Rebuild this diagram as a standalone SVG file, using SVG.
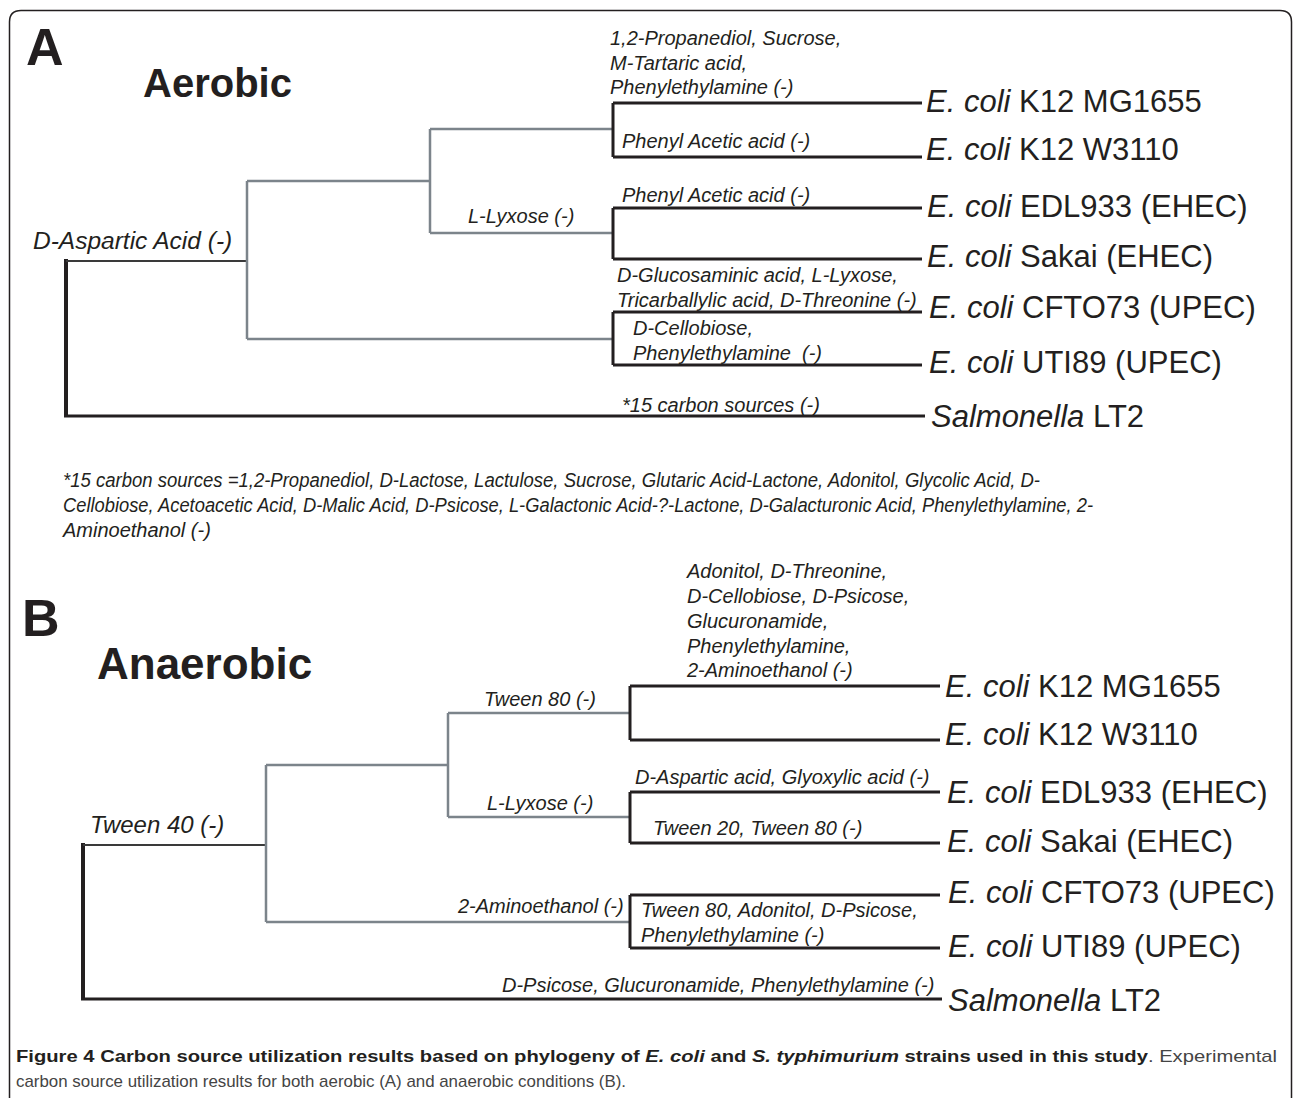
<svg xmlns="http://www.w3.org/2000/svg" width="1293" height="1098" viewBox="0 0 1293 1098">
<style>
text{font-family:"Liberation Sans",Arial,sans-serif;fill:#231f20}
.big{font-weight:bold}
.lab{font-style:italic;font-size:20px}
.sp{font-size:31px}
.sp .i{font-style:italic}
.fn{font-style:italic;font-size:20px}
.cap{font-size:17px}
.g{stroke:#7c848b;stroke-width:2.5;fill:none}
.d{stroke:#3a3a3a;stroke-width:2;fill:none}
.k{stroke:#231f20;stroke-width:3;fill:none}
.r{stroke:#231f20;stroke-width:4;fill:none}
</style>
<rect width="1293" height="1098" fill="#fff"/>
<path d="M9.5,1098 V22 Q9.5,10.5 21,10.5 H1280 Q1291.5,10.5 1291.5,22 V1098" fill="none" stroke="#231f20" stroke-width="1.5"/>

<g id="panelA-titles">
<text class="big" x="26" y="65" font-size="52">A</text>
<text class="big" x="143" y="97" font-size="40">Aerobic</text>
</g>

<g id="connectors-A">
<path class="r" d="M66,259 V416"/>
<path class="d" d="M66,261 H247"/>
<path class="g" d="M247,181 V339 M247,181 H430 M247,339 H613 M430,129 V233 M430,129 H613 M430,233 H613"/>
<path class="k" d="M613,103 V157 M613,103 H922 M613,157 H922"/>
<path class="k" d="M613,208 V259 M613,208 H922 M613,259 H922"/>
<path class="k" d="M613,312 V365 M613,312 H922 M613,365 H922"/>
<path class="k" stroke-width="3.5" d="M64,416 H925"/>
</g>

<g id="labels-A">
<text class="lab" x="33" y="249" style="font-size:24.5px">D-Aspartic Acid (-)</text>
<text class="lab" x="468" y="223">L-Lyxose (-)</text>
<text class="lab" x="610" y="45">1,2-Propanediol, Sucrose,</text>
<text class="lab" x="610" y="70">M-Tartaric acid,</text>
<text class="lab" x="610" y="94">Phenylethylamine (-)</text>
<text class="lab" x="622" y="148">Phenyl Acetic acid (-)</text>
<text class="lab" x="622" y="202">Phenyl Acetic acid (-)</text>
<text class="lab" x="617" y="282">D-Glucosaminic acid, L-Lyxose,</text>
<text class="lab" x="617" y="307">Tricarballylic acid, D-Threonine (-)</text>
<text class="lab" x="633" y="335">D-Cellobiose,</text>
<text class="lab" x="633" y="360" xml:space="preserve">Phenylethylamine  (-)</text>
<text class="lab" x="622" y="412">*15 carbon sources (-)</text>
</g>

<g id="nodes-A">
<g id="A-MG1655"><text class="sp" x="926" y="112"><tspan class="i">E. coli</tspan> K12 MG1655</text></g>
<g id="A-W3110"><text class="sp" x="926" y="160"><tspan class="i">E. coli</tspan> K12 W3110</text></g>
<g id="A-EDL933"><text class="sp" x="927" y="217"><tspan class="i">E. coli</tspan> EDL933 (EHEC)</text></g>
<g id="A-Sakai"><text class="sp" x="927" y="267"><tspan class="i">E. coli</tspan> Sakai (EHEC)</text></g>
<g id="A-CFTO73"><text class="sp" x="929" y="318"><tspan class="i">E. coli</tspan> CFTO73 (UPEC)</text></g>
<g id="A-UTI89"><text class="sp" x="929" y="373"><tspan class="i">E. coli</tspan> UTI89 (UPEC)</text></g>
<g id="A-LT2"><text class="sp" x="931" y="427"><tspan class="i">Salmonella</tspan> LT2</text></g>
</g>

<g id="footnote">
<text class="fn" x="63" y="487" textLength="977" lengthAdjust="spacingAndGlyphs">*15 carbon sources =1,2-Propanediol, D-Lactose, Lactulose, Sucrose, Glutaric Acid-Lactone, Adonitol, Glycolic Acid, D-</text>
<text class="fn" x="63" y="512" textLength="1030" lengthAdjust="spacingAndGlyphs">Cellobiose, Acetoacetic Acid, D-Malic Acid, D-Psicose, L-Galactonic Acid-?-Lactone, D-Galacturonic Acid, Phenylethylamine, 2-</text>
<text class="fn" x="63" y="537">Aminoethanol (-)</text>
</g>

<g id="panelB-titles">
<text class="big" x="22" y="636" font-size="52">B</text>
<text class="big" x="97" y="679" font-size="44">Anaerobic</text>
</g>

<g id="connectors-B">
<path class="r" d="M83,843 V1000"/>
<path class="d" d="M83,845 H266"/>
<path class="g" d="M266,765 V922 M266,765 H448 M266,922 H630 M448,713 V817 M448,713 H630 M448,817 H630"/>
<path class="k" d="M630,686 V740 M630,686 H940 M630,740 H940"/>
<path class="k" d="M630,792 V843 M630,792 H940 M630,843 H940"/>
<path class="k" d="M630,895 V948 M630,895 H940 M630,948 H940"/>
<path class="k" stroke-width="3.5" d="M81,999 H942"/>
</g>

<g id="labels-B">
<text class="lab" x="90" y="833" style="font-size:24px">Tween 40 (-)</text>
<text class="lab" x="484" y="706">Tween 80 (-)</text>
<text class="lab" x="487" y="810">L-Lyxose (-)</text>
<text class="lab" x="458" y="913">2-Aminoethanol (-)</text>
<text class="lab" x="687" y="578">Adonitol, D-Threonine,</text>
<text class="lab" x="687" y="603">D-Cellobiose, D-Psicose,</text>
<text class="lab" x="687" y="628">Glucuronamide,</text>
<text class="lab" x="687" y="653">Phenylethylamine,</text>
<text class="lab" x="687" y="677">2-Aminoethanol (-)</text>
<text class="lab" x="635" y="784">D-Aspartic acid, Glyoxylic acid (-)</text>
<text class="lab" x="653" y="835">Tween 20, Tween 80 (-)</text>
<text class="lab" x="641" y="917">Tween 80, Adonitol, D-Psicose,</text>
<text class="lab" x="641" y="942">Phenylethylamine (-)</text>
<text class="lab" x="502" y="992">D-Psicose, Glucuronamide, Phenylethylamine (-)</text>
</g>

<g id="nodes-B">
<g id="B-MG1655"><text class="sp" x="945" y="697"><tspan class="i">E. coli</tspan> K12 MG1655</text></g>
<g id="B-W3110"><text class="sp" x="945" y="745"><tspan class="i">E. coli</tspan> K12 W3110</text></g>
<g id="B-EDL933"><text class="sp" x="947" y="803"><tspan class="i">E. coli</tspan> EDL933 (EHEC)</text></g>
<g id="B-Sakai"><text class="sp" x="947" y="852"><tspan class="i">E. coli</tspan> Sakai (EHEC)</text></g>
<g id="B-CFTO73"><text class="sp" x="948" y="903"><tspan class="i">E. coli</tspan> CFTO73 (UPEC)</text></g>
<g id="B-UTI89"><text class="sp" x="948" y="957"><tspan class="i">E. coli</tspan> UTI89 (UPEC)</text></g>
<g id="B-LT2"><text class="sp" x="948" y="1011"><tspan class="i">Salmonella</tspan> LT2</text></g>
</g>

<g id="caption">
<text class="cap" x="16" y="1062" textLength="1261" lengthAdjust="spacingAndGlyphs"><tspan font-weight="bold">Figure 4 Carbon source utilization results based on phylogeny of <tspan font-style="italic">E. coli</tspan> and <tspan font-style="italic">S. typhimurium</tspan> strains used in this study</tspan><tspan fill="#444">. Experimental</tspan></text>
<text class="cap" x="16" y="1087" style="fill:#444" textLength="610" lengthAdjust="spacingAndGlyphs">carbon source utilization results for both aerobic (A) and anaerobic conditions (B).</text>
</g>
</svg>
